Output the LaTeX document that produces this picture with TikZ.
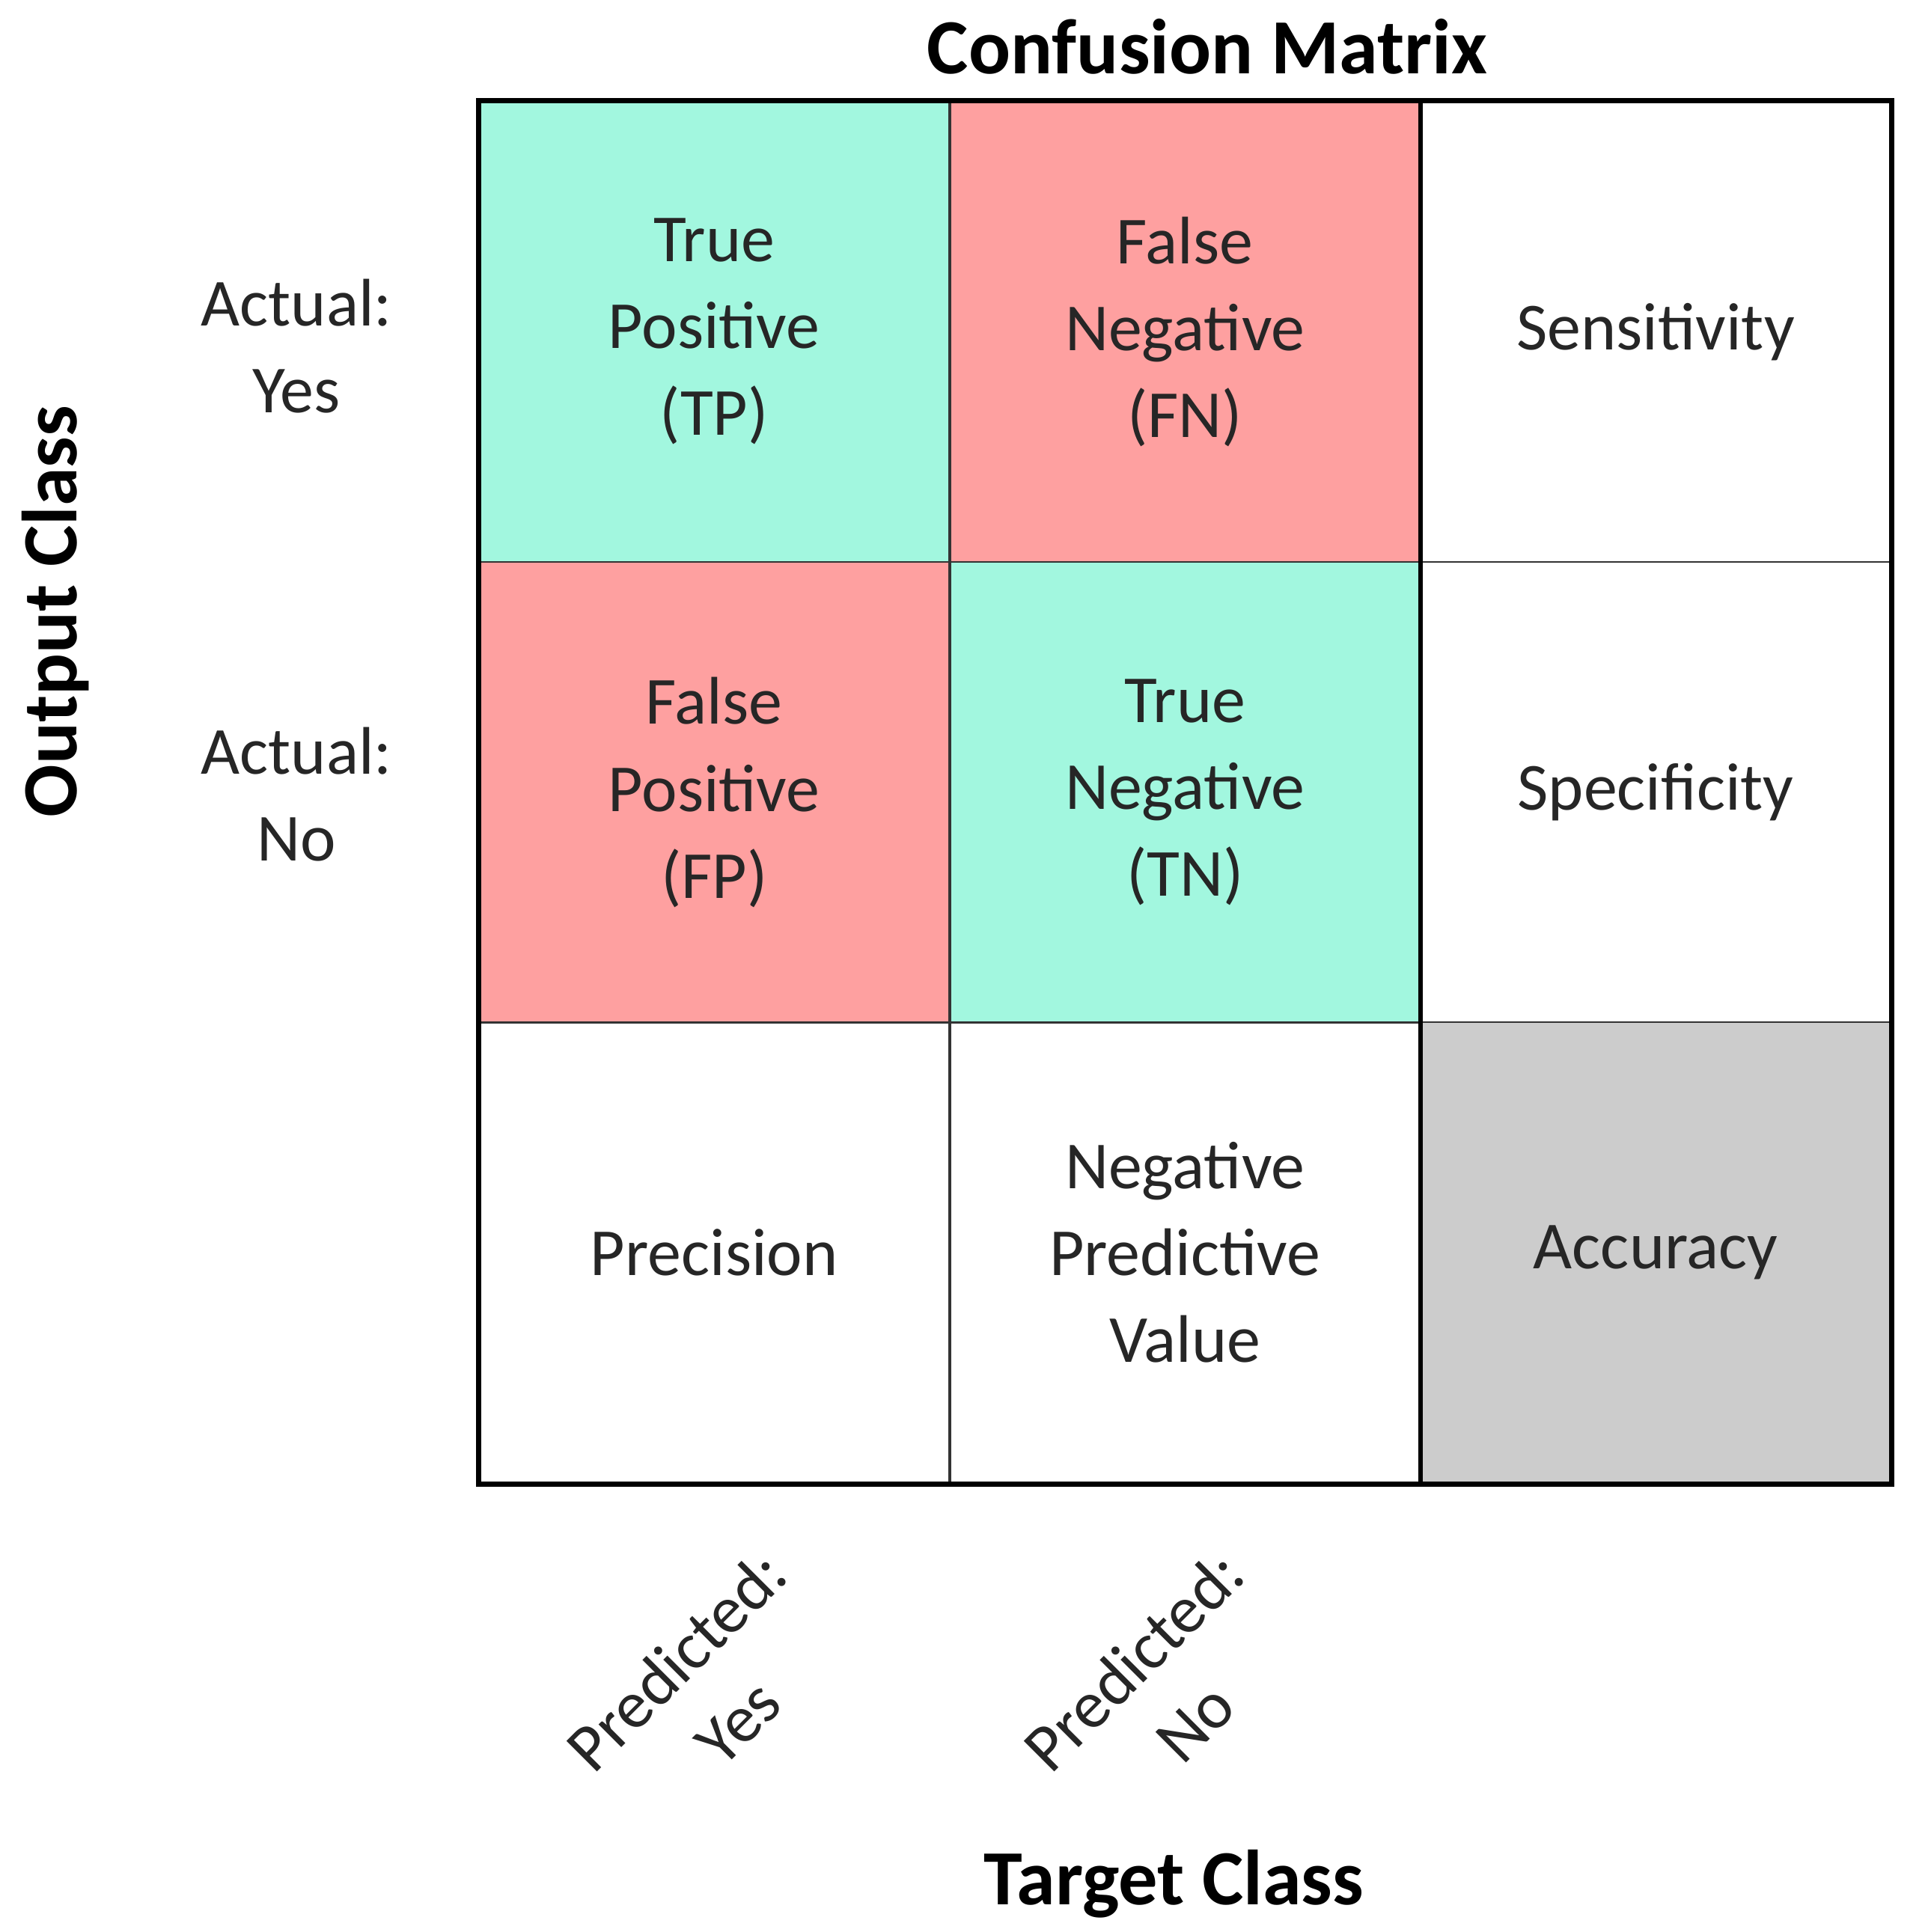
\documentclass[tikz,border=0pt]{standalone}
\usepackage{fontspec}
\setmainfont{Carlito}
\definecolor{tgreen}{HTML}{A2F7DF}
\definecolor{tred}{HTML}{FEA0A0}
\definecolor{tgray}{HTML}{CCCCCC}
\begin{document}
\begin{tikzpicture}[
  cell/.style={draw=black!80,line width=0.4pt,minimum width=3.80cm,minimum height=3.73cm,inner sep=0pt,align=center,font=\fontsize{15.5}{20}\selectfont,text=black!85},
  lab/.style={align=center,font=\fontsize{15.5}{20}\selectfont,text=black!85},
  ttl/.style={font=\bfseries\fontsize{18}{20}\selectfont}]
\useasboundingbox (0,0) rectangle (15.6,15.64);
\node[cell,fill=tgreen] (tp) at (5.78,12.955) {True\\Positive\\(TP)};
\node[cell,fill=tred] (fn) at (9.59,12.955) {False\\Negative\\(FN)};
\node[cell] (sen) at (13.40,12.955) {Sensitivity};
\node[cell,fill=tred] (fp) at (5.78,9.225) {False\\Positive\\(FP)};
\node[cell,fill=tgreen] (tn) at (9.59,9.225) {True\\Negative\\(TN)};
\node[cell] (spe) at (13.40,9.225) {Specificity};
\node[cell] (pre) at (5.78,5.50) {Precision};
\node[cell] (npv) at (9.59,5.50) {Negative\\Predictive\\Value};
\node[cell,fill=tgray] (acc) at (13.40,5.50) {Accuracy};
\draw[line width=1.2pt] (tp.north west) rectangle (acc.south east);
\draw[line width=1.1pt] (fn.north east) -- (npv.south east);
\node[ttl] (title) at (9.77,15.26) {Confusion Matrix};
\node[ttl,rotate=90] (oc) at (0.45,10.69) {Output Class};
\node[ttl] (tc) at (9.50,0.39) {Target Class};
\node[lab] (ay) at (2.40,12.84) {Actual:\\Yes};
\node[lab] (an) at (2.40,9.21) {Actual:\\No};
\node[lab,rotate=45] (py) at (5.72,1.95) {Predicted:\\Yes};
\node[lab,rotate=45] (pn) at (9.42,1.95) {Predicted:\\No};
\end{tikzpicture}
\end{document}
